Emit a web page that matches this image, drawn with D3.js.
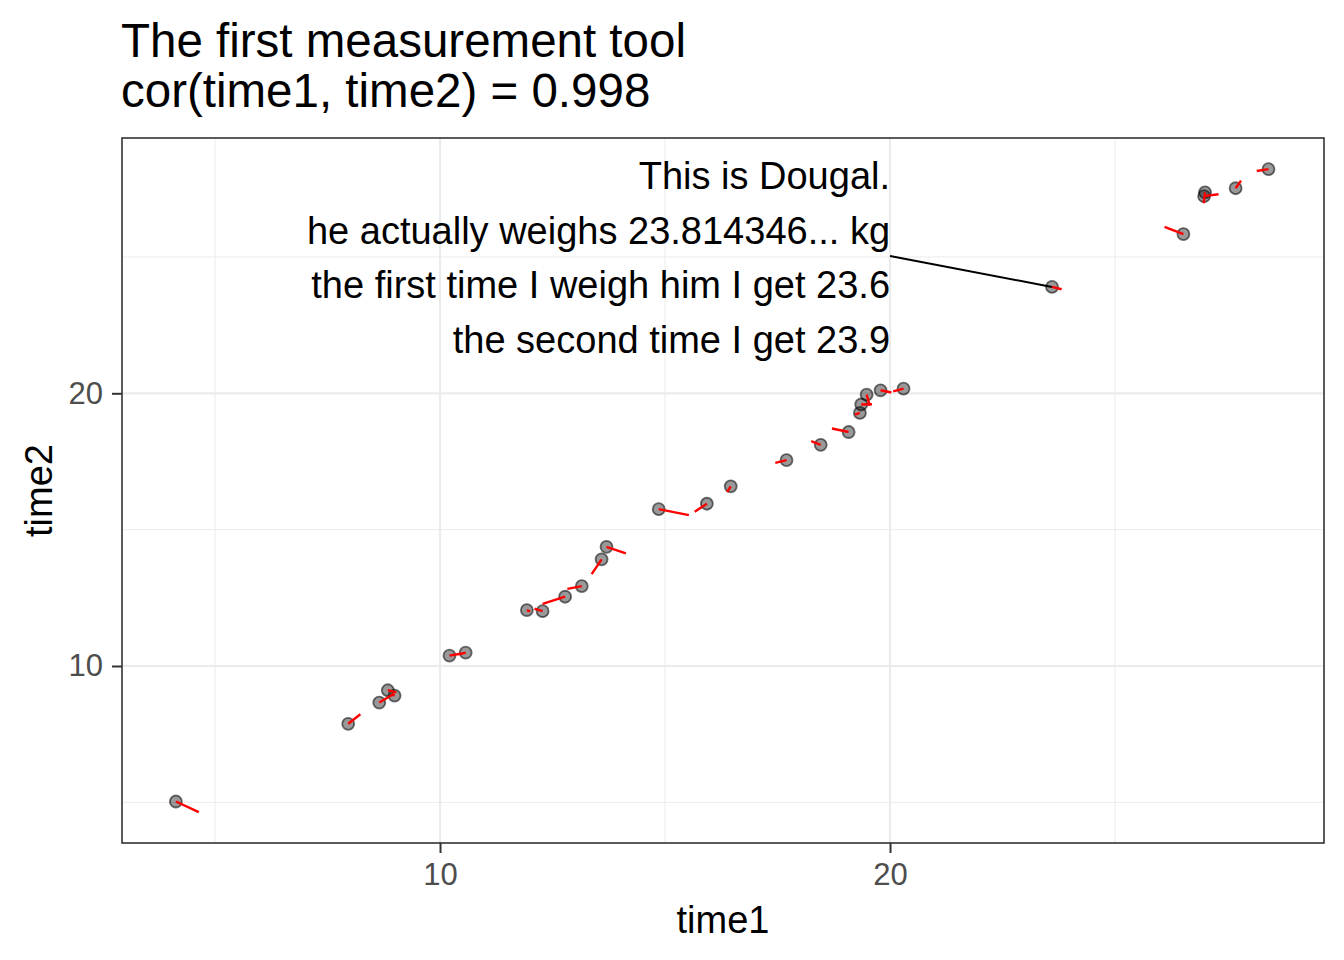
<!DOCTYPE html>
<html>
<head>
<meta charset="utf-8">
<script src="https://cdn.jsdelivr.net/npm/d3@7"></script>
<style>
  body { margin: 0; background: #ffffff; }
  text { font-family: "Liberation Sans", Arial, sans-serif; }
</style>
</head>
<body>
<div id="chart"></div>
<script>
// Scatter of two weighings, with a red segment to the true weight

// Data
var time1 = [4.13, 7.96, 8.65, 8.84, 8.99, 10.21, 10.57, 11.93, 12.28, 12.78,
  13.15, 13.59, 13.70, 14.86, 15.93, 16.46, 17.70, 18.46, 19.08, 19.33,
  19.36, 19.48, 19.79, 20.30, 23.6, 26.52, 27.0, 26.98, 27.68, 28.41];
var time2 = [5.03, 7.88, 8.66, 9.11, 8.91, 10.38, 10.49, 12.05, 12.01, 12.54,
  12.93, 13.91, 14.37, 15.75, 15.95, 16.59, 17.55, 18.11, 18.58, 19.28,
  19.59, 19.95, 20.11, 20.17, 23.9, 25.84, 27.37, 27.23, 27.52, 28.22];
var trueWeight = [4.64, 8.23, 8.98, 9.03, 8.95, 10.45, 10.43, 12.0, 12.1, 12.28,
  12.83, 13.37, 14.13, 15.53, 15.66, 16.38, 17.45, 18.25, 18.71, 19.22,
  19.6, 19.55, 20.03, 20.07, 23.814346, 26.1, 26.97, 27.3, 27.8, 28.15];

var majorTicks = [10, 20];
var minorTicks = [5, 15, 25];

var titleLines = ["The first measurement tool", "cor(time1, time2) = 0.998"];
var labelLines = ["This is Dougal.",
  "he actually weighs 23.814346... kg",
  "the first time I weigh him I get 23.6",
  "the second time I get 23.9"];
var labelAt = [20, 25];   // where the label block sits, data units
var dougal = 24;          // index of Dougal in the arrays

// Size of the page
var width = 1344;
var height = 960;

var margin = {
  top: 138,
  left: 122,
  right: 20,
  bottom: 117
};

var data = time1.map(function(d, i) {
  return { t1: d, t2: time2[i], w: trueWeight[i] };
});

var svg = d3.select('#chart')
  .append('svg')
  .attr('width', width)
  .attr('height', height);

var x_scale = d3.scaleLinear()
  .domain([2.933, 29.644])
  .range([margin.left, width - margin.right]);

var y_scale = d3.scaleLinear()
  .domain([3.509, 29.362])
  .range([height - margin.bottom, margin.top]);

var panelTop = margin.top;
var panelBottom = height - margin.bottom;
var panelLeft = margin.left;
var panelRight = width - margin.right;

// Title, two lines
svg.selectAll('.title')
  .data(titleLines)
  .enter()
  .append('text')
  .attr('class', 'title')
  .attr('x', 121)
  .attr('y', function(d, i) { return 57 + i * 50; })
  .style('font-size', '47.5px')
  .attr('fill', 'black')
  .text(function(d) { return d; });

// Gridlines (minor then major)
var grid = svg.append('g').attr('class', 'grid');

grid.selectAll('.xminor')
  .data(minorTicks)
  .enter()
  .append('line')
  .attr('x1', function(d) { return x_scale(d); })
  .attr('x2', function(d) { return x_scale(d); })
  .attr('y1', panelTop)
  .attr('y2', panelBottom)
  .attr('stroke', '#ebebeb')
  .attr('stroke-width', 1);

grid.selectAll('.yminor')
  .data(minorTicks)
  .enter()
  .append('line')
  .attr('y1', function(d) { return y_scale(d); })
  .attr('y2', function(d) { return y_scale(d); })
  .attr('x1', panelLeft)
  .attr('x2', panelRight)
  .attr('stroke', '#ebebeb')
  .attr('stroke-width', 1);

grid.selectAll('.xmajor')
  .data(majorTicks)
  .enter()
  .append('line')
  .attr('x1', function(d) { return x_scale(d); })
  .attr('x2', function(d) { return x_scale(d); })
  .attr('y1', panelTop)
  .attr('y2', panelBottom)
  .attr('stroke', '#ebebeb')
  .attr('stroke-width', 2.2);

grid.selectAll('.ymajor')
  .data(majorTicks)
  .enter()
  .append('line')
  .attr('y1', function(d) { return y_scale(d); })
  .attr('y2', function(d) { return y_scale(d); })
  .attr('x1', panelLeft)
  .attr('x2', panelRight)
  .attr('stroke', '#ebebeb')
  .attr('stroke-width', 2.2);

// Label for Dougal
var label = svg.append('g').attr('class', 'label');

label.append('line')
  .attr('x1', x_scale(labelAt[0]))
  .attr('y1', y_scale(labelAt[1]) - 1)
  .attr('x2', x_scale(data[dougal].t1))
  .attr('y2', y_scale(data[dougal].t2))
  .attr('stroke', 'black')
  .attr('stroke-width', 2);

label.selectAll('text')
  .data(labelLines)
  .enter()
  .append('text')
  .attr('x', x_scale(labelAt[0]))
  .attr('y', function(d, i) {
    return y_scale(labelAt[1]) + (i - 1.5) * 54.5 + 14;
  })
  .attr('text-anchor', 'end')
  .style('font-size', '38px')
  .attr('fill', 'black')
  .text(function(d) { return d; });

// Points
svg.append('g')
  .selectAll('circle')
  .data(data)
  .enter()
  .append('circle')
  .attr('cx', function(d) { return x_scale(d.t1); })
  .attr('cy', function(d) { return y_scale(d.t2); })
  .attr('r', 6)
  .attr('fill', 'black')
  .attr('fill-opacity', 0.4)
  .attr('stroke', 'black')
  .attr('stroke-opacity', 0.55)
  .attr('stroke-width', 1.8);

// Red segments from each point to its true weight
svg.append('g')
  .selectAll('line')
  .data(data)
  .enter()
  .append('line')
  .attr('x1', function(d) { return x_scale(d.t1); })
  .attr('y1', function(d) { return y_scale(d.t2); })
  .attr('x2', function(d) { return x_scale(d.w); })
  .attr('y2', function(d) { return y_scale(d.w); })
  .attr('stroke', 'red')
  .attr('stroke-width', 2.4);

// Panel border
svg.append('rect')
  .attr('x', panelLeft)
  .attr('y', panelTop)
  .attr('width', panelRight - panelLeft)
  .attr('height', panelBottom - panelTop)
  .attr('fill', 'none')
  .attr('stroke', '#333333')
  .attr('stroke-width', 1.6);

// Axes
var xaxis = d3.axisBottom(x_scale)
  .tickValues(majorTicks)
  .tickSize(10)
  .tickPadding(10);

var yaxis = d3.axisLeft(y_scale)
  .tickValues(majorTicks)
  .tickSize(10)
  .tickPadding(9);

svg.append('g')
  .attr('class', 'x axis')
  .attr('transform', 'translate(0,' + panelBottom + ')')
  .call(xaxis);

svg.append('g')
  .attr('class', 'y axis')
  .attr('transform', 'translate(' + panelLeft + ',0)')
  .call(yaxis);

svg.selectAll('.axis .domain').remove();
svg.selectAll('.axis .tick line')
  .attr('stroke', '#333333')
  .attr('stroke-width', 2);
svg.selectAll('.axis .tick text')
  .attr('fill', '#4d4d4d')
  .style('font-family', '"Liberation Sans", Arial, sans-serif')
  .style('font-size', '31px');

// Axis titles
svg.append('text')
  .attr('x', (panelLeft + panelRight) / 2)
  .attr('y', 933)
  .style('text-anchor', 'middle')
  .style('font-size', '38px')
  .text('time1');

svg.append('text')
  .attr('transform', 'rotate(-90)')
  .attr('x', -(panelTop + panelBottom) / 2)
  .attr('y', 52)
  .style('text-anchor', 'middle')
  .style('font-size', '38px')
  .text('time2');
</script>
</body>
</html>
